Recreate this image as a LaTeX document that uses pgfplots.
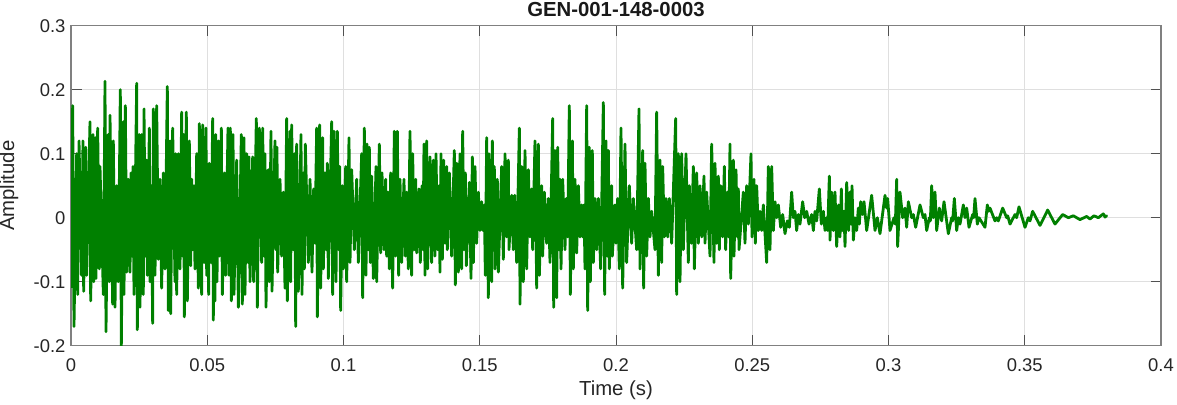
\documentclass[border=0pt]{standalone}
\usepackage{pgfplots}
\pgfplotsset{compat=1.18}
\usepackage{fontspec}
\setmainfont{Liberation Sans}
\definecolor{mgreen}{RGB}{0,128,0}
\definecolor{txtgray}{RGB}{38,38,38}
\definecolor{axgray}{RGB}{128,128,128}
\definecolor{gridgray}{RGB}{223,223,223}
\begin{document}
\begin{tikzpicture}
\begin{axis}[
  scale only axis,
  width=1090bp, height=320bp,
  xmin=0, xmax=0.4, ymin=-0.2, ymax=0.3,
  xtick={0,0.05,0.1,0.15,0.2,0.25,0.3,0.35,0.4},
  ytick={-0.2,-0.1,0,0.1,0.2,0.3},
  /pgf/number format/assume math mode=true,
  /pgf/number format/fixed,
  /pgf/number format/precision=2,
  tick label style={font=\fontsize{18.5}{22}\selectfont, text=txtgray},
  xticklabel style={anchor=base, yshift=-26bp},
  yticklabel style={xshift=-2bp},
  grid=major,
  major grid style={draw=gridgray, line width=0.9bp},
  axis line style={draw=axgray, line width=1.1bp},
  tick style={draw=txtgray!80, line width=1bp},
  major tick length=10.5bp,
  tick align=inside,
  xtick pos=both, ytick pos=both,
  title={GEN-001-148-0003},
  every axis title/.style={font=\bfseries\fontsize{20.4}{24}\selectfont, text=black!90, at={(axis description cs:0.5,1)}, anchor=base, yshift=9bp},
  xlabel={Time (s)},
  ylabel={Amplitude},
  every axis x label/.style={at={(axis description cs:0.5,0)}, anchor=base, yshift=-50bp, font=\fontsize{20.4}{24}\selectfont, text=txtgray},
  every axis y label/.style={at={(axis description cs:-0.0569,0.5)}, rotate=90, anchor=center, font=\fontsize{20.4}{24}\selectfont, text=txtgray},
]
\coordinate (bl) at (rel axis cs:0,0);
\coordinate (tr) at (rel axis cs:1,1);
\addplot[color=mgreen, line width=2.8bp, line join=round, line cap=round, mark=none] coordinates {
(0,0)
(0.00024,-0.108)
(0.00061,0.175)
(0.00110,-0.17)
(0.00208,0.10)
(0.00245,-0.12)
(0.00294,0.12)
(0.00391,-0.09)
(0.00440,0.12)
(0.00465,-0.115)
(0.00538,0.11)
(0.00575,-0.09)
(0.00697,0.15)
(0.00722,-0.13)
(0.00807,0.13)
(0.00832,-0.10)
(0.00893,0.125)
(0.00917,-0.095)
(0.00979,0.14)
(0.01040,-0.08)
(0.01064,0.08)
(0.01187,-0.12)
(0.01248,0.213)
(0.01284,-0.178)
(0.01370,0.13)
(0.01407,-0.10)
(0.01431,0.16)
(0.01529,-0.135)
(0.01553,0.12)
(0.01615,-0.14)
(0.01676,0.05)
(0.01737,-0.10)
(0.01810,0.20)
(0.01847,-0.20)
(0.01920,0.15)
(0.01945,-0.12)
(0.01994,0.175)
(0.02043,-0.085)
(0.02104,0.06)
(0.02165,-0.085)
(0.02202,0.07)
(0.02239,-0.06)
(0.02275,0.08)
(0.02312,-0.12)
(0.02410,0.21)
(0.02434,-0.175)
(0.02508,0.13)
(0.02532,-0.14)
(0.02593,0.13)
(0.02654,-0.12)
(0.02679,0.17)
(0.02728,-0.06)
(0.02777,0.09)
(0.02801,-0.09)
(0.02875,0.14)
(0.02899,-0.10)
(0.02948,0.05)
(0.02997,-0.165)
(0.03021,0.17)
(0.03083,-0.09)
(0.03144,0.175)
(0.03205,-0.065)
(0.03266,0.06)
(0.03327,-0.11)
(0.03388,0.07)
(0.03449,-0.08)
(0.03535,0.205)
(0.03572,-0.145)
(0.03633,0.12)
(0.03657,-0.15)
(0.03731,0.14)
(0.03816,-0.10)
(0.03841,0.10)
(0.03878,-0.12)
(0.03939,0.10)
(0.04000,-0.08)
(0.04061,0.165)
(0.04098,-0.06)
(0.04134,0.13)
(0.04159,-0.155)
(0.04232,0.165)
(0.04269,-0.13)
(0.04342,0.12)
(0.04391,-0.075)
(0.04428,0.06)
(0.04465,-0.05)
(0.04514,0.05)
(0.04550,-0.08)
(0.04612,0.10)
(0.04673,-0.11)
(0.04709,0.147)
(0.04795,-0.12)
(0.04832,0.145)
(0.04893,-0.07)
(0.04954,0.14)
(0.04979,-0.09)
(0.05015,0.06)
(0.05052,-0.12)
(0.05076,0.085)
(0.05138,-0.07)
(0.05199,0.155)
(0.05223,-0.16)
(0.05248,0.06)
(0.05284,-0.13)
(0.05309,0.13)
(0.05358,-0.10)
(0.05407,0.12)
(0.05443,-0.06)
(0.05517,0.14)
(0.05554,-0.12)
(0.05639,0.07)
(0.05676,-0.09)
(0.05761,0.14)
(0.05798,-0.09)
(0.05847,0.14)
(0.05884,-0.13)
(0.05945,0.13)
(0.05982,-0.12)
(0.06080,0.09)
(0.06141,-0.14)
(0.06251,0.13)
(0.06287,-0.135)
(0.06349,0.125)
(0.06385,-0.12)
(0.06446,0.10)
(0.06495,-0.07)
(0.06532,0.095)
(0.06569,-0.10)
(0.06667,0.095)
(0.06703,-0.10)
(0.06801,0.155)
(0.06838,-0.14)
(0.06911,0.14)
(0.06997,-0.07)
(0.07034,0.14)
(0.07083,-0.06)
(0.07119,0.10)
(0.07156,-0.14)
(0.07242,0.075)
(0.07278,-0.10)
(0.07339,0.135)
(0.07376,-0.115)
(0.07486,0.12)
(0.07523,-0.05)
(0.07560,0.11)
(0.07584,-0.085)
(0.07670,0.06)
(0.07731,-0.06)
(0.07792,0.04)
(0.07853,-0.11)
(0.07914,0.155)
(0.07939,-0.13)
(0.08037,0.135)
(0.08061,-0.10)
(0.08098,0.145)
(0.08159,-0.05)
(0.08208,0.10)
(0.08245,-0.17)
(0.08281,0.115)
(0.08342,-0.115)
(0.08440,0.13)
(0.08477,-0.12)
(0.08526,0.07)
(0.08563,-0.08)
(0.08599,0.115)
(0.08709,-0.07)
(0.08771,0.06)
(0.08844,-0.085)
(0.08905,0.045)
(0.08954,-0.04)
(0.09015,0.14)
(0.09040,-0.155)
(0.09125,0.145)
(0.09162,-0.11)
(0.09235,0.125)
(0.09260,-0.08)
(0.09321,0.07)
(0.09370,-0.05)
(0.09407,0.085)
(0.09443,-0.095)
(0.09566,0.15)
(0.09602,-0.12)
(0.09651,0.135)
(0.09725,-0.10)
(0.09774,0.135)
(0.09823,-0.05)
(0.09859,0.08)
(0.09896,-0.145)
(0.09957,0.05)
(0.09994,-0.08)
(0.10080,0.08)
(0.10116,-0.10)
(0.10202,0.125)
(0.10239,-0.07)
(0.10300,0.075)
(0.10398,-0.05)
(0.10483,0.06)
(0.10544,-0.07)
(0.10667,0.10)
(0.10703,-0.125)
(0.10764,0.14)
(0.10826,-0.09)
(0.10862,0.115)
(0.10911,-0.05)
(0.10948,0.11)
(0.10985,-0.07)
(0.11034,0.065)
(0.11095,-0.095)
(0.11193,0.08)
(0.11217,-0.10)
(0.11315,0.115)
(0.11364,-0.055)
(0.11413,0.07)
(0.11486,-0.05)
(0.11547,0.06)
(0.11584,-0.06)
(0.11633,0.04)
(0.11682,-0.08)
(0.11731,0.07)
(0.11804,-0.11)
(0.11865,0.135)
(0.11914,-0.06)
(0.11976,0.135)
(0.12024,-0.09)
(0.12073,0.06)
(0.12135,-0.07)
(0.12220,0.06)
(0.12269,-0.06)
(0.12318,0.04)
(0.12379,-0.08)
(0.12440,0.135)
(0.12501,-0.09)
(0.12538,0.10)
(0.12599,-0.05)
(0.12648,0.06)
(0.12685,-0.055)
(0.12770,0.045)
(0.12819,-0.07)
(0.12881,0.05)
(0.12917,-0.05)
(0.12954,0.115)
(0.12991,-0.09)
(0.13052,0.12)
(0.13088,-0.08)
(0.13174,0.095)
(0.13235,-0.07)
(0.13296,0.09)
(0.13357,-0.06)
(0.13394,0.10)
(0.13455,-0.05)
(0.13504,0.05)
(0.13541,-0.085)
(0.13578,0.10)
(0.13627,-0.065)
(0.13676,0.09)
(0.13725,-0.04)
(0.13786,0.08)
(0.13810,-0.05)
(0.13884,0.07)
(0.13969,-0.06)
(0.14067,0.105)
(0.14104,-0.105)
(0.14153,0.085)
(0.14214,-0.085)
(0.14275,0.10)
(0.14336,-0.08)
(0.14373,0.135)
(0.14422,-0.05)
(0.14471,0.07)
(0.14508,-0.075)
(0.14618,0.055)
(0.14679,-0.095)
(0.14728,0.095)
(0.14765,-0.07)
(0.14826,0.08)
(0.14887,-0.04)
(0.14948,0.04)
(0.15009,-0.02)
(0.15070,0.025)
(0.15119,-0.02)
(0.15168,0.02)
(0.15205,-0.09)
(0.15254,0.125)
(0.15315,-0.125)
(0.15339,0.10)
(0.15437,-0.10)
(0.15462,0.12)
(0.15498,-0.05)
(0.15535,0.08)
(0.15560,-0.08)
(0.15645,0.06)
(0.15682,-0.085)
(0.15804,0.08)
(0.15865,-0.065)
(0.15927,0.10)
(0.15988,-0.03)
(0.16049,0.09)
(0.16073,-0.05)
(0.16171,0.035)
(0.16232,-0.05)
(0.16281,0.035)
(0.16355,-0.07)
(0.16453,0.14)
(0.16477,-0.135)
(0.16538,0.08)
(0.16599,-0.10)
(0.16661,0.105)
(0.16722,-0.08)
(0.16783,0.075)
(0.16844,-0.03)
(0.16905,0.045)
(0.16942,-0.05)
(0.17027,0.12)
(0.17089,-0.11)
(0.17150,0.115)
(0.17187,-0.09)
(0.17272,0.05)
(0.17309,-0.06)
(0.17370,0.04)
(0.17456,-0.04)
(0.17517,0.03)
(0.17578,-0.07)
(0.17676,0.155)
(0.17713,-0.14)
(0.17761,0.105)
(0.17823,-0.125)
(0.17859,0.11)
(0.17908,-0.05)
(0.17945,0.06)
(0.17982,-0.08)
(0.18043,0.06)
(0.18128,-0.05)
(0.18177,0.03)
(0.18226,-0.03)
(0.18287,0.175)
(0.18324,-0.12)
(0.18398,0.12)
(0.18434,-0.08)
(0.18495,0.06)
(0.18557,-0.055)
(0.18618,0.05)
(0.18679,-0.03)
(0.18740,0.02)
(0.18777,-0.03)
(0.18826,0.02)
(0.18862,-0.08)
(0.18924,0.175)
(0.18960,-0.145)
(0.19021,0.11)
(0.19058,-0.10)
(0.19131,0.105)
(0.19168,-0.07)
(0.19229,0.03)
(0.19291,-0.05)
(0.19352,0.03)
(0.19437,-0.08)
(0.19535,0.18)
(0.19584,-0.12)
(0.19633,0.12)
(0.19682,-0.06)
(0.19719,0.105)
(0.19755,-0.08)
(0.19841,0.05)
(0.19865,-0.06)
(0.19963,0.02)
(0.20000,-0.04)
(0.20061,0.03)
(0.20122,-0.08)
(0.20183,0.14)
(0.20245,-0.11)
(0.20330,0.115)
(0.20391,-0.07)
(0.20489,0.05)
(0.20575,-0.04)
(0.20636,0.03)
(0.20758,-0.05)
(0.20844,0.17)
(0.20881,-0.08)
(0.20979,0.105)
(0.21015,-0.11)
(0.21064,0.085)
(0.21125,-0.06)
(0.21187,0.03)
(0.21248,-0.03)
(0.21309,0.01)
(0.21431,-0.05)
(0.21492,0.165)
(0.21554,-0.09)
(0.21615,0.09)
(0.21676,-0.07)
(0.21713,0.08)
(0.21774,-0.03)
(0.21835,0.03)
(0.21896,-0.03)
(0.21957,0.03)
(0.22043,-0.04)
(0.22190,0.155)
(0.22226,-0.12)
(0.22287,0.10)
(0.22349,-0.10)
(0.22410,0.10)
(0.22471,-0.05)
(0.22569,0.10)
(0.22654,-0.07)
(0.22691,0.05)
(0.22765,-0.04)
(0.22838,0.08)
(0.22875,-0.08)
(0.22960,0.07)
(0.23021,-0.04)
(0.23083,0.05)
(0.23144,-0.03)
(0.23229,0.065)
(0.23266,-0.04)
(0.23327,0.04)
(0.23450,-0.06)
(0.23511,0.115)
(0.23596,-0.07)
(0.23633,0.085)
(0.23694,-0.04)
(0.23755,0.065)
(0.23792,-0.05)
(0.23841,0.05)
(0.23914,-0.03)
(0.23976,0.08)
(0.24024,-0.05)
(0.24086,0.04)
(0.24135,-0.03)
(0.24184,0.115)
(0.24208,-0.095)
(0.24306,0.09)
(0.24330,-0.06)
(0.24404,0.075)
(0.24453,-0.03)
(0.24489,0.045)
(0.24514,-0.05)
(0.24673,0.04)
(0.24734,-0.04)
(0.24795,0.05)
(0.24856,-0.01)
(0.24954,0.10)
(0.24991,-0.03)
(0.25064,0.06)
(0.25113,-0.04)
(0.25162,0.05)
(0.25223,-0.02)
(0.25284,0.01)
(0.25346,-0.02)
(0.25407,0.02)
(0.25529,-0.07)
(0.25590,0.08)
(0.25651,-0.05)
(0.25713,0.08)
(0.25774,-0.02)
(0.25835,0.025)
(0.25896,0.0)
(0.25957,0.02)
(0.26043,-0.015)
(0.26116,0.005)
(0.26202,-0.025)
(0.26287,-0.005)
(0.26361,-0.015)
(0.26446,0.04)
(0.26508,0.0)
(0.26569,0.01)
(0.26630,-0.02)
(0.26691,0.005)
(0.26752,-0.01)
(0.26850,0.025)
(0.26924,0.0)
(0.26997,0.01)
(0.27083,-0.01)
(0.27180,0.005)
(0.27242,-0.02)
(0.27303,0.01)
(0.27364,-0.005)
(0.27462,0.045)
(0.27535,-0.01)
(0.27609,0.01)
(0.27670,-0.02)
(0.27731,0.0)
(0.27768,-0.02)
(0.27829,0.065)
(0.27853,-0.035)
(0.27914,0.04)
(0.27976,-0.02)
(0.28037,0.04)
(0.28098,-0.045)
(0.28171,0.02)
(0.28220,-0.03)
(0.28269,0.045)
(0.28306,-0.02)
(0.28367,0.01)
(0.28404,-0.045)
(0.28465,0.055)
(0.28538,-0.02)
(0.28587,0.04)
(0.28624,-0.01)
(0.28661,0.05)
(0.28710,-0.035)
(0.28771,0.0)
(0.28832,-0.02)
(0.28893,0.015)
(0.28930,-0.01)
(0.28979,0.025)
(0.29052,0.005)
(0.29101,0.025)
(0.29199,-0.02)
(0.29382,0.035)
(0.29505,-0.02)
(0.29590,0.0)
(0.29688,-0.025)
(0.29872,0.035)
(0.29933,0.015)
(0.29969,0.03)
(0.30055,-0.02)
(0.30202,0.0)
(0.30251,-0.01)
(0.30300,0.06)
(0.30336,-0.045)
(0.30422,0.04)
(0.30520,0.0)
(0.30606,0.015)
(0.30667,-0.015)
(0.30728,0.025)
(0.30850,0.0)
(0.30911,0.005)
(0.30997,-0.015)
(0.31156,0.02)
(0.31278,0.0)
(0.31339,0.005)
(0.31401,-0.02)
(0.31499,0.0)
(0.31535,-0.005)
(0.31584,0.05)
(0.31645,0.0)
(0.31706,0.04)
(0.31768,-0.02)
(0.31865,0.015)
(0.31951,-0.005)
(0.32037,0.025)
(0.32196,-0.025)
(0.32318,0.0)
(0.32355,-0.005)
(0.32416,0.03)
(0.32502,-0.02)
(0.32563,0.0)
(0.32624,-0.01)
(0.32746,0.02)
(0.32807,0.0)
(0.32869,0.015)
(0.32954,-0.015)
(0.33089,0.005)
(0.33125,0.0)
(0.33174,0.03)
(0.33260,-0.01)
(0.33321,0.0)
(0.33541,-0.015)
(0.33627,0.02)
(0.33676,0.01)
(0.33725,0.015)
(0.33908,-0.005)
(0.33969,0.0)
(0.34031,-0.005)
(0.34190,0.015)
(0.34336,0.0)
(0.34373,0.003)
(0.34459,-0.01)
(0.34642,0.005)
(0.34703,0.0)
(0.34789,0.017)
(0.35009,-0.015)
(0.35131,0.0)
(0.35192,-0.005)
(0.35290,0.01)
(0.35560,-0.012)
(0.35841,0.012)
(0.36110,-0.01)
(0.36391,0.005)
(0.36599,0.0)
(0.36783,0.003)
(0.37028,-0.003)
(0.37272,0.002)
(0.37394,-0.002)
(0.37541,0.003)
(0.37700,0.0)
(0.37884,0.006)
(0.37945,0.001)
(0.38006,0.003)
};
\end{axis}
\pgfresetboundingbox
\path ([shift={(-71bp,-58.3bp)}]bl) rectangle ([shift={(16bp,25.7bp)}]tr);
\end{tikzpicture}
\end{document}
